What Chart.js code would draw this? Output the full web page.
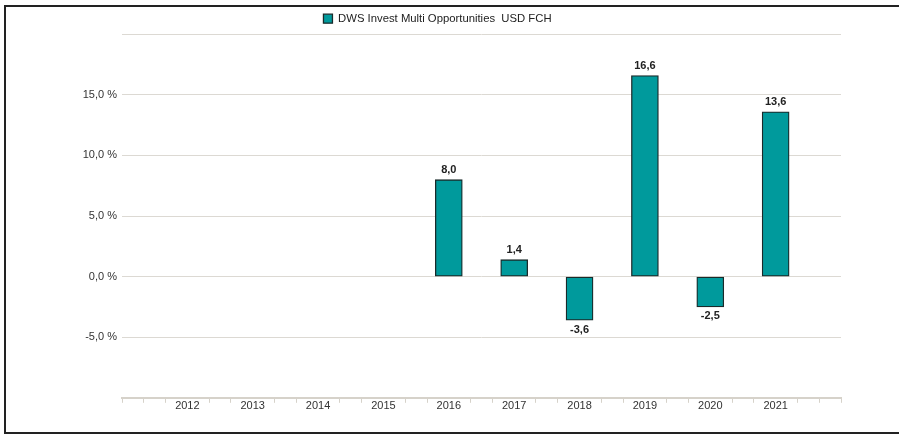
<!DOCTYPE html>
<html>
<head>
<meta charset="utf-8">
<script src="https://cdn.jsdelivr.net/npm/chart.js@4.4.1/dist/chart.umd.min.js"></script>
<style>
  html, body { margin: 0; padding: 0; background: #fff; }
  #wrap { position: absolute; left: 0; top: 0; width: 899px; height: 435px; }
  #frame { position: absolute; left: 4px; top: 5px; width: 900px; height: 425px;
           border: 2px solid #222; border-right: none; pointer-events: none; }
</style>
</head>
<body>
<div id="wrap"><canvas id="c" width="899" height="435"></canvas></div>
<div id="frame"></div>
<script>
const seriesName = 'DWS Invest Multi Opportunities  USD FCH';
const years = [2012, 2013, 2014, 2015, 2016, 2017, 2018, 2019, 2020, 2021];
const values = [null, null, null, null, 8.0, 1.4, -3.6, 16.6, -2.5, 13.6];
const yTickValues = [-5, 0, 5, 10, 15];

const fmt = v => v.toFixed(1).replace('.', ',');
const FONT = "Arial, 'Liberation Sans', sans-serif";

const points = years.map((y, i) => ({ x: y, y: values[i] })).filter(p => p.y !== null);

const valueLabels = {
  id: 'valueLabels',
  afterDatasetsDraw(chart) {
    const ctx = chart.ctx;
    const meta = chart.getDatasetMeta(0);
    ctx.save();
    ctx.font = "bold 11px " + FONT;
    ctx.fillStyle = '#222';
    ctx.textAlign = 'center';
    meta.data.forEach((bar, i) => {
      const v = points[i].y;
      if (v >= 0) {
        ctx.textBaseline = 'bottom';
        ctx.fillText(fmt(v), bar.x, bar.y - 4);
      } else {
        ctx.textBaseline = 'top';
        ctx.fillText(fmt(v), bar.x, bar.y + 4);
      }
    });
    ctx.restore();
  }
};

const isLabelled = v => {
  const r = Math.round(v);
  return Math.abs(v - r) < 1e-6 && years.includes(r);
};

new Chart(document.getElementById('c'), {
  type: 'bar',
  data: {
    datasets: [{
      label: seriesName,
      data: points,
      backgroundColor: '#009a9c',
      borderColor: '#1a2a2a',
      borderWidth: 1.3,
      borderSkipped: false,
      barThickness: 27
    }]
  },
  options: {
    responsive: false,
    animation: false,
    layout: { padding: { left: 34, right: 58, top: 3, bottom: 25 } },
    plugins: {
      legend: {
        display: true,
        position: 'top',
        labels: {
          font: { family: FONT, size: 11.3 },
          color: '#222',
          boxWidth: 9,
          boxHeight: 9,
          padding: 10
        }
      },
      tooltip: { enabled: false }
    },
    scales: {
      x: {
        type: 'linear',
        offset: false,
        min: years[0] - 1,
        max: years[years.length - 1] + 1,
        afterBuildTicks(scale) {
          const t = [];
          for (let i = 0; i <= 33; i++) t.push({ value: scale.min + i / 3 });
          scale.ticks = t;
        },
        ticks: {
          autoSkip: false,
          maxRotation: 0,
          padding: -3,
          font: { family: FONT, size: 11 },
          color: '#333',
          callback: v => isLabelled(v) ? String(Math.round(v)) : ''
        },
        grid: {
          offset: false,
          drawOnChartArea: false,
          drawTicks: true,
          tickLength: 5,
          color: ctx => (ctx.tick && isLabelled(ctx.tick.value)) ? 'rgba(0,0,0,0)' : '#d6d2ca'
        },
        border: { display: true, color: '#d6d2ca', width: 2 }
      },
      y: {
        min: -10,
        max: 20,
        afterBuildTicks(scale) {
          const t = [];
          for (let v = -10; v <= 20; v += 5) t.push({ value: v });
          scale.ticks = t;
        },
        afterFit(scale) { scale.width = 88; },
        ticks: {
          padding: 5,
          font: { family: FONT, size: 11 },
          color: '#333',
          callback: v => yTickValues.includes(v) ? fmt(v) + ' %' : ''
        },
        grid: {
          drawTicks: false,
          color: ctx => (ctx.tick && ctx.tick.value === -10) ? 'rgba(0,0,0,0)' : '#dcd9d3',
          lineWidth: 1
        },
        border: { display: false }
      }
    }
  },
  plugins: [valueLabels]
});
</script>
</body>
</html>
